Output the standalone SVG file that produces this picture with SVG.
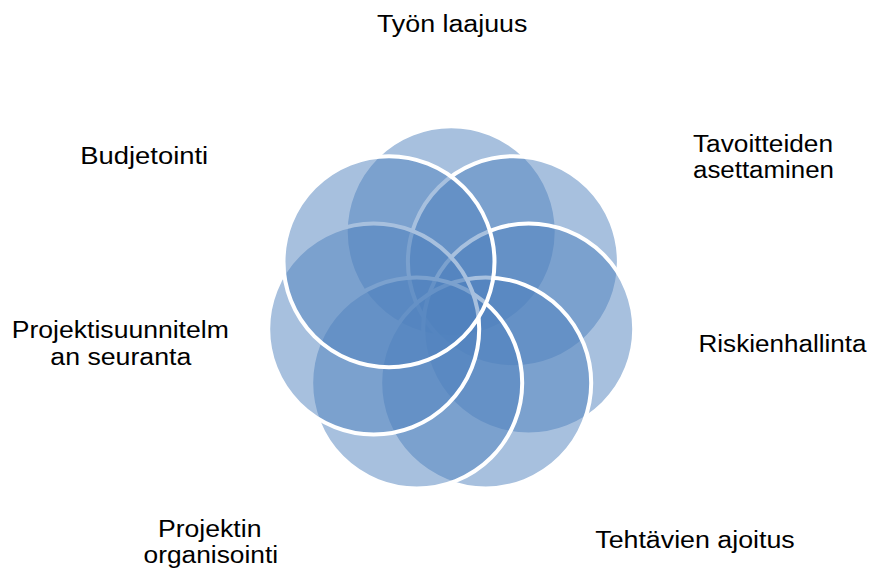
<svg xmlns="http://www.w3.org/2000/svg" width="870" height="570" viewBox="0 0 870 570">
  <style>
    .ring { fill: #4F81BD; fill-opacity: 0.5; stroke: #FFFFFF; stroke-width: 4; }
    .label { font-family: "Liberation Sans", Arial, sans-serif; font-size: 23.5px; fill: #000000; text-anchor: middle; }
  </style>
  <rect width="870" height="570" fill="#FFFFFF"/>

  <!-- seven overlapping circles on a heptagon, drawn in cycle order -->
  <g id="node-tyon-laajuus">
    <circle class="ring" cx="451.2" cy="231.8" r="105.5"/>
    <text class="label" x="452.2" y="32.3" textLength="150.5" lengthAdjust="spacingAndGlyphs">Työn laajuus</text>
  </g>
  <g id="node-tavoitteiden-asettaminen">
    <circle class="ring" cx="513.4" cy="261.7" r="105.5"/>
    <text class="label" x="763" y="151.5" textLength="140" lengthAdjust="spacingAndGlyphs">Tavoitteiden</text>
    <text class="label" x="763.5" y="178" textLength="141" lengthAdjust="spacingAndGlyphs">asettaminen</text>
  </g>
  <g id="node-riskienhallinta">
    <circle class="ring" cx="528.7" cy="329" r="105.5"/>
    <text class="label" x="782.5" y="351.7" textLength="168" lengthAdjust="spacingAndGlyphs">Riskienhallinta</text>
  </g>
  <g id="node-tehtavien-ajoitus">
    <circle class="ring" cx="485.7" cy="382.9" r="105.5"/>
    <text class="label" x="695" y="548.3" textLength="199.5" lengthAdjust="spacingAndGlyphs">Tehtävien ajoitus</text>
  </g>
  <g id="node-projektin-organisointi">
    <circle class="ring" cx="416.7" cy="382.9" r="105.5"/>
    <text class="label" x="209.7" y="537.3" textLength="103.5" lengthAdjust="spacingAndGlyphs">Projektin</text>
    <text class="label" x="210.8" y="563.3" textLength="134.5" lengthAdjust="spacingAndGlyphs">organisointi</text>
  </g>
  <g id="node-projektisuunnitelman-seuranta">
    <circle class="ring" cx="373.7" cy="329" r="105.5"/>
    <text class="label" x="120.3" y="337.7" textLength="217" lengthAdjust="spacingAndGlyphs">Projektisuunnitelm</text>
    <text class="label" x="120.8" y="365" textLength="141" lengthAdjust="spacingAndGlyphs">an seuranta</text>
  </g>
  <g id="node-budjetointi">
    <circle class="ring" cx="389" cy="261.7" r="105.5"/>
    <text class="label" x="144.2" y="164" textLength="128" lengthAdjust="spacingAndGlyphs">Budjetointi</text>
  </g>
</svg>
